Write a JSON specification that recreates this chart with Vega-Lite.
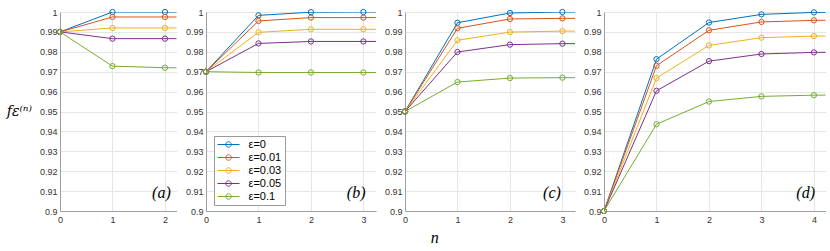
{
  "$schema": "https://vega.github.io/schema/vega-lite/v6.json",
  "padding": {"left": 6, "top": 7, "right": 4, "bottom": 2},
  "background": "white",
  "datasets": {
    "curves": [
      {"panel": "a", "eps": "ε=0", "n": 0, "f": 0.99},
      {"panel": "a", "eps": "ε=0", "n": 1, "f": 1.0},
      {"panel": "a", "eps": "ε=0", "n": 2, "f": 1.0},
      {"panel": "a", "eps": "ε=0", "n": 3, "f": 1.0},
      {"panel": "a", "eps": "ε=0.01", "n": 0, "f": 0.99},
      {"panel": "a", "eps": "ε=0.01", "n": 1, "f": 0.9975},
      {"panel": "a", "eps": "ε=0.01", "n": 2, "f": 0.9975},
      {"panel": "a", "eps": "ε=0.01", "n": 3, "f": 0.9975},
      {"panel": "a", "eps": "ε=0.03", "n": 0, "f": 0.99},
      {"panel": "a", "eps": "ε=0.03", "n": 1, "f": 0.992},
      {"panel": "a", "eps": "ε=0.03", "n": 2, "f": 0.992},
      {"panel": "a", "eps": "ε=0.03", "n": 3, "f": 0.992},
      {"panel": "a", "eps": "ε=0.05", "n": 0, "f": 0.99},
      {"panel": "a", "eps": "ε=0.05", "n": 1, "f": 0.9866},
      {"panel": "a", "eps": "ε=0.05", "n": 2, "f": 0.9866},
      {"panel": "a", "eps": "ε=0.05", "n": 3, "f": 0.9866},
      {"panel": "a", "eps": "ε=0.1", "n": 0, "f": 0.99},
      {"panel": "a", "eps": "ε=0.1", "n": 1, "f": 0.9728},
      {"panel": "a", "eps": "ε=0.1", "n": 2, "f": 0.972},
      {"panel": "a", "eps": "ε=0.1", "n": 3, "f": 0.9718},

      {"panel": "b", "eps": "ε=0", "n": 0, "f": 0.97},
      {"panel": "b", "eps": "ε=0", "n": 1, "f": 0.9983},
      {"panel": "b", "eps": "ε=0", "n": 2, "f": 0.9999},
      {"panel": "b", "eps": "ε=0", "n": 3, "f": 1.0},
      {"panel": "b", "eps": "ε=0", "n": 4, "f": 1.0},
      {"panel": "b", "eps": "ε=0.01", "n": 0, "f": 0.97},
      {"panel": "b", "eps": "ε=0.01", "n": 1, "f": 0.9955},
      {"panel": "b", "eps": "ε=0.01", "n": 2, "f": 0.9972},
      {"panel": "b", "eps": "ε=0.01", "n": 3, "f": 0.9972},
      {"panel": "b", "eps": "ε=0.01", "n": 4, "f": 0.9972},
      {"panel": "b", "eps": "ε=0.03", "n": 0, "f": 0.97},
      {"panel": "b", "eps": "ε=0.03", "n": 1, "f": 0.9898},
      {"panel": "b", "eps": "ε=0.03", "n": 2, "f": 0.9913},
      {"panel": "b", "eps": "ε=0.03", "n": 3, "f": 0.9913},
      {"panel": "b", "eps": "ε=0.03", "n": 4, "f": 0.9913},
      {"panel": "b", "eps": "ε=0.05", "n": 0, "f": 0.97},
      {"panel": "b", "eps": "ε=0.05", "n": 1, "f": 0.9842},
      {"panel": "b", "eps": "ε=0.05", "n": 2, "f": 0.9852},
      {"panel": "b", "eps": "ε=0.05", "n": 3, "f": 0.9852},
      {"panel": "b", "eps": "ε=0.05", "n": 4, "f": 0.9852},
      {"panel": "b", "eps": "ε=0.1", "n": 0, "f": 0.97},
      {"panel": "b", "eps": "ε=0.1", "n": 1, "f": 0.9696},
      {"panel": "b", "eps": "ε=0.1", "n": 2, "f": 0.9696},
      {"panel": "b", "eps": "ε=0.1", "n": 3, "f": 0.9696},
      {"panel": "b", "eps": "ε=0.1", "n": 4, "f": 0.9696},

      {"panel": "c", "eps": "ε=0", "n": 0, "f": 0.95},
      {"panel": "c", "eps": "ε=0", "n": 1, "f": 0.9946},
      {"panel": "c", "eps": "ε=0", "n": 2, "f": 0.9995},
      {"panel": "c", "eps": "ε=0", "n": 3, "f": 1.0},
      {"panel": "c", "eps": "ε=0", "n": 4, "f": 1.0},
      {"panel": "c", "eps": "ε=0.01", "n": 0, "f": 0.95},
      {"panel": "c", "eps": "ε=0.01", "n": 1, "f": 0.9918},
      {"panel": "c", "eps": "ε=0.01", "n": 2, "f": 0.9965},
      {"panel": "c", "eps": "ε=0.01", "n": 3, "f": 0.9968},
      {"panel": "c", "eps": "ε=0.01", "n": 4, "f": 0.9968},
      {"panel": "c", "eps": "ε=0.03", "n": 0, "f": 0.95},
      {"panel": "c", "eps": "ε=0.03", "n": 1, "f": 0.9858},
      {"panel": "c", "eps": "ε=0.03", "n": 2, "f": 0.9899},
      {"panel": "c", "eps": "ε=0.03", "n": 3, "f": 0.9904},
      {"panel": "c", "eps": "ε=0.03", "n": 4, "f": 0.9904},
      {"panel": "c", "eps": "ε=0.05", "n": 0, "f": 0.95},
      {"panel": "c", "eps": "ε=0.05", "n": 1, "f": 0.9799},
      {"panel": "c", "eps": "ε=0.05", "n": 2, "f": 0.9836},
      {"panel": "c", "eps": "ε=0.05", "n": 3, "f": 0.9841},
      {"panel": "c", "eps": "ε=0.05", "n": 4, "f": 0.9841},
      {"panel": "c", "eps": "ε=0.1", "n": 0, "f": 0.95},
      {"panel": "c", "eps": "ε=0.1", "n": 1, "f": 0.9648},
      {"panel": "c", "eps": "ε=0.1", "n": 2, "f": 0.9668},
      {"panel": "c", "eps": "ε=0.1", "n": 3, "f": 0.967},
      {"panel": "c", "eps": "ε=0.1", "n": 4, "f": 0.967},

      {"panel": "d", "eps": "ε=0", "n": 0, "f": 0.9},
      {"panel": "d", "eps": "ε=0", "n": 1, "f": 0.9763},
      {"panel": "d", "eps": "ε=0", "n": 2, "f": 0.9947},
      {"panel": "d", "eps": "ε=0", "n": 3, "f": 0.9988},
      {"panel": "d", "eps": "ε=0", "n": 4, "f": 0.9998},
      {"panel": "d", "eps": "ε=0", "n": 5, "f": 1.0},
      {"panel": "d", "eps": "ε=0.01", "n": 0, "f": 0.9},
      {"panel": "d", "eps": "ε=0.01", "n": 1, "f": 0.973},
      {"panel": "d", "eps": "ε=0.01", "n": 2, "f": 0.9908},
      {"panel": "d", "eps": "ε=0.01", "n": 3, "f": 0.995},
      {"panel": "d", "eps": "ε=0.01", "n": 4, "f": 0.9958},
      {"panel": "d", "eps": "ε=0.01", "n": 5, "f": 0.996},
      {"panel": "d", "eps": "ε=0.03", "n": 0, "f": 0.9},
      {"panel": "d", "eps": "ε=0.03", "n": 1, "f": 0.9668},
      {"panel": "d", "eps": "ε=0.03", "n": 2, "f": 0.9832},
      {"panel": "d", "eps": "ε=0.03", "n": 3, "f": 0.9871},
      {"panel": "d", "eps": "ε=0.03", "n": 4, "f": 0.9879},
      {"panel": "d", "eps": "ε=0.03", "n": 5, "f": 0.988},
      {"panel": "d", "eps": "ε=0.05", "n": 0, "f": 0.9},
      {"panel": "d", "eps": "ε=0.05", "n": 1, "f": 0.9604},
      {"panel": "d", "eps": "ε=0.05", "n": 2, "f": 0.9753},
      {"panel": "d", "eps": "ε=0.05", "n": 3, "f": 0.9789},
      {"panel": "d", "eps": "ε=0.05", "n": 4, "f": 0.9797},
      {"panel": "d", "eps": "ε=0.05", "n": 5, "f": 0.9799},
      {"panel": "d", "eps": "ε=0.1", "n": 0, "f": 0.9},
      {"panel": "d", "eps": "ε=0.1", "n": 1, "f": 0.9436},
      {"panel": "d", "eps": "ε=0.1", "n": 2, "f": 0.955},
      {"panel": "d", "eps": "ε=0.1", "n": 3, "f": 0.9576},
      {"panel": "d", "eps": "ε=0.1", "n": 4, "f": 0.9582},
      {"panel": "d", "eps": "ε=0.1", "n": 5, "f": 0.9584}
    ]
  },
  "title": {
    "text": "n",
    "orient": "bottom",
    "anchor": "middle",
    "font": "Liberation Serif",
    "fontStyle": "italic",
    "fontWeight": "normal",
    "fontSize": 16,
    "color": "#000",
    "offset": 6,
    "dx": 19
  },
  "config": {
    "view": {"stroke": null},
    "font": "Liberation Sans",
    "axis": {
      "labelFont": "Liberation Sans",
      "labelFontSize": 9,
      "labelColor": "#333",
      "labelFlush": false,
      "labelOverlap": false,
      "labelPadding": 3,
      "domainColor": "#a0a0a0",
      "domainWidth": 1,
      "gridColor": "#e6e6e6",
      "gridWidth": 1,
      "ticks": false
    },
    "axisX": {"labelPadding": 4, "title": null, "format": "d"},
    "axisY": {"format": ".2~f", "title": null}
  },
  "spacing": 8,
  "resolve": {"legend": {"color": "independent"}},
  "hconcat": [
    {
      "width": 116.5,
      "height": 199,
      "layer": [
        {
          "data": {"name": "curves"},
          "transform": [{"filter": "datum.panel == 'a'"}],
          "mark": {"type": "line", "clip": true, "strokeWidth": 1},
          "encoding": {
            "x": {"field": "n", "type": "quantitative", "scale": {"domain": [0, 2.22], "nice": false}, "axis": {"values": [0, 1, 2]}},
            "y": {"field": "f", "type": "quantitative", "scale": {"domain": [0.9, 1], "nice": false, "zero": false}, "axis": {"values": [0.9, 0.91, 0.92, 0.93, 0.94, 0.95, 0.96, 0.97, 0.98, 0.99, 1], "title": "fε⁽ⁿ⁾", "titleAngle": 0, "titleFont": "DejaVu Serif", "titleFontStyle": "italic", "titleFontWeight": "normal", "titleFontSize": 14, "titleColor": "#000", "titleAlign": "right", "titleBaseline": "middle", "titlePadding": 8}},
            "color": {"field": "eps", "type": "nominal", "scale": {"domain": ["ε=0", "ε=0.01", "ε=0.03", "ε=0.05", "ε=0.1"], "range": ["#0072BD", "#D95319", "#EDB120", "#7E2F8E", "#77AC30"]}, "legend": null}
          }
        },
        {
          "data": {"name": "curves"},
          "transform": [{"filter": "datum.panel == 'a' && datum.n <= 2"}],
          "mark": {"type": "point", "shape": "circle", "filled": false, "size": 28, "strokeWidth": 1, "opacity": 1},
          "encoding": {
            "x": {"field": "n", "type": "quantitative", "axis": {"values": [0, 1, 2]}},
            "y": {"field": "f", "type": "quantitative", "axis": {"values": [0.9, 0.91, 0.92, 0.93, 0.94, 0.95, 0.96, 0.97, 0.98, 0.99, 1], "title": "fε⁽ⁿ⁾", "titleAngle": 0, "titleFont": "DejaVu Serif", "titleFontStyle": "italic", "titleFontWeight": "normal", "titleFontSize": 14, "titleColor": "#000", "titleAlign": "right", "titleBaseline": "middle", "titlePadding": 8}},
            "color": {"field": "eps", "type": "nominal", "legend": null}
          }
        },
        {
          "data": {"values": [{"label": "(a)"}]},
          "mark": {"type": "text", "align": "right", "baseline": "middle", "font": "Liberation Serif", "fontStyle": "italic", "fontSize": 16, "color": "#000"},
          "encoding": {
            "x": {"datum": 2.11, "type": "quantitative", "axis": {"values": [0, 1, 2]}},
            "y": {"datum": 0.9092, "type": "quantitative", "axis": {"values": [0.9, 0.91, 0.92, 0.93, 0.94, 0.95, 0.96, 0.97, 0.98, 0.99, 1], "title": "fε⁽ⁿ⁾", "titleAngle": 0, "titleFont": "DejaVu Serif", "titleFontStyle": "italic", "titleFontWeight": "normal", "titleFontSize": 14, "titleColor": "#000", "titleAlign": "right", "titleBaseline": "middle", "titlePadding": 8}},
            "text": {"field": "label"}
          }
        }
      ]
    },
    {
      "width": 170,
      "height": 199,
      "layer": [
        {
          "data": {"name": "curves"},
          "transform": [{"filter": "datum.panel == 'b'"}],
          "mark": {"type": "line", "clip": true, "strokeWidth": 1},
          "encoding": {
            "x": {"field": "n", "type": "quantitative", "scale": {"domain": [0, 3.24], "nice": false}, "axis": {"values": [0, 1, 2, 3]}},
            "y": {"field": "f", "type": "quantitative", "scale": {"domain": [0.9, 1], "nice": false, "zero": false}, "axis": {"values": [0.9, 0.91, 0.92, 0.93, 0.94, 0.95, 0.96, 0.97, 0.98, 0.99, 1]}},
            "color": {"field": "eps", "type": "nominal", "scale": {"domain": ["ε=0", "ε=0.01", "ε=0.03", "ε=0.05", "ε=0.1"], "range": ["#0072BD", "#D95319", "#EDB120", "#7E2F8E", "#77AC30"]},
              "legend": {"title": null, "orient": "none", "legendX": 8, "legendY": 124, "symbolType": "M-2.2,0H2.2M0.55,0A0.55,0.55,0,1,1,-0.55,0A0.55,0.55,0,1,1,0.55,0", "symbolSize": 100, "symbolStrokeWidth": 1, "symbolFillColor": "transparent", "symbolOffset": 6, "labelOffset": 14.5, "labelFont": "Liberation Sans", "labelFontSize": 11, "labelColor": "#000", "padding": 3, "strokeColor": "#9a9a9a", "fillColor": "white", "rowPadding": 1}}
          }
        },
        {
          "data": {"name": "curves"},
          "transform": [{"filter": "datum.panel == 'b' && datum.n <= 3"}],
          "mark": {"type": "point", "shape": "circle", "filled": false, "size": 28, "strokeWidth": 1, "opacity": 1},
          "encoding": {
            "x": {"field": "n", "type": "quantitative", "axis": {"values": [0, 1, 2, 3]}},
            "y": {"field": "f", "type": "quantitative", "axis": {"values": [0.9, 0.91, 0.92, 0.93, 0.94, 0.95, 0.96, 0.97, 0.98, 0.99, 1]}},
            "color": {"field": "eps", "type": "nominal",
              "legend": {"title": null, "orient": "none", "legendX": 8, "legendY": 124, "symbolType": "M-2.2,0H2.2M0.55,0A0.55,0.55,0,1,1,-0.55,0A0.55,0.55,0,1,1,0.55,0", "symbolSize": 100, "symbolStrokeWidth": 1, "symbolFillColor": "transparent", "symbolOffset": 6, "labelOffset": 14.5, "labelFont": "Liberation Sans", "labelFontSize": 11, "labelColor": "#000", "padding": 3, "strokeColor": "#9a9a9a", "fillColor": "white", "rowPadding": 1}}
          }
        },
        {
          "data": {"values": [{"label": "(b)"}]},
          "mark": {"type": "text", "align": "right", "baseline": "middle", "font": "Liberation Serif", "fontStyle": "italic", "fontSize": 16, "color": "#000"},
          "encoding": {
            "x": {"datum": 3.04, "type": "quantitative", "axis": {"values": [0, 1, 2, 3]}},
            "y": {"datum": 0.9092, "type": "quantitative", "axis": {"values": [0.9, 0.91, 0.92, 0.93, 0.94, 0.95, 0.96, 0.97, 0.98, 0.99, 1]}},
            "text": {"field": "label"}
          }
        }
      ]
    },
    {
      "width": 170,
      "height": 199,
      "layer": [
        {
          "data": {"name": "curves"},
          "transform": [{"filter": "datum.panel == 'c'"}],
          "mark": {"type": "line", "clip": true, "strokeWidth": 1},
          "encoding": {
            "x": {"field": "n", "type": "quantitative", "scale": {"domain": [0, 3.24], "nice": false}, "axis": {"values": [0, 1, 2, 3]}},
            "y": {"field": "f", "type": "quantitative", "scale": {"domain": [0.9, 1], "nice": false, "zero": false}, "axis": {"values": [0.9, 0.91, 0.92, 0.93, 0.94, 0.95, 0.96, 0.97, 0.98, 0.99, 1]}},
            "color": {"field": "eps", "type": "nominal", "scale": {"domain": ["ε=0", "ε=0.01", "ε=0.03", "ε=0.05", "ε=0.1"], "range": ["#0072BD", "#D95319", "#EDB120", "#7E2F8E", "#77AC30"]}, "legend": null}
          }
        },
        {
          "data": {"name": "curves"},
          "transform": [{"filter": "datum.panel == 'c' && datum.n <= 3"}],
          "mark": {"type": "point", "shape": "circle", "filled": false, "size": 28, "strokeWidth": 1, "opacity": 1},
          "encoding": {
            "x": {"field": "n", "type": "quantitative", "axis": {"values": [0, 1, 2, 3]}},
            "y": {"field": "f", "type": "quantitative", "axis": {"values": [0.9, 0.91, 0.92, 0.93, 0.94, 0.95, 0.96, 0.97, 0.98, 0.99, 1]}},
            "color": {"field": "eps", "type": "nominal", "legend": null}
          }
        },
        {
          "data": {"values": [{"label": "(c)"}]},
          "mark": {"type": "text", "align": "right", "baseline": "middle", "font": "Liberation Serif", "fontStyle": "italic", "fontSize": 16, "color": "#000"},
          "encoding": {
            "x": {"datum": 2.97, "type": "quantitative", "axis": {"values": [0, 1, 2, 3]}},
            "y": {"datum": 0.9092, "type": "quantitative", "axis": {"values": [0.9, 0.91, 0.92, 0.93, 0.94, 0.95, 0.96, 0.97, 0.98, 0.99, 1]}},
            "text": {"field": "label"}
          }
        }
      ]
    },
    {
      "width": 221.5,
      "height": 199,
      "layer": [
        {
          "data": {"name": "curves"},
          "transform": [{"filter": "datum.panel == 'd'"}],
          "mark": {"type": "line", "clip": true, "strokeWidth": 1},
          "encoding": {
            "x": {"field": "n", "type": "quantitative", "scale": {"domain": [0, 4.22], "nice": false}, "axis": {"values": [0, 1, 2, 3, 4]}},
            "y": {"field": "f", "type": "quantitative", "scale": {"domain": [0.9, 1], "nice": false, "zero": false}, "axis": {"values": [0.9, 0.91, 0.92, 0.93, 0.94, 0.95, 0.96, 0.97, 0.98, 0.99, 1]}},
            "color": {"field": "eps", "type": "nominal", "scale": {"domain": ["ε=0", "ε=0.01", "ε=0.03", "ε=0.05", "ε=0.1"], "range": ["#0072BD", "#D95319", "#EDB120", "#7E2F8E", "#77AC30"]}, "legend": null}
          }
        },
        {
          "data": {"name": "curves"},
          "transform": [{"filter": "datum.panel == 'd' && datum.n <= 4"}],
          "mark": {"type": "point", "shape": "circle", "filled": false, "size": 28, "strokeWidth": 1, "opacity": 1},
          "encoding": {
            "x": {"field": "n", "type": "quantitative", "axis": {"values": [0, 1, 2, 3, 4]}},
            "y": {"field": "f", "type": "quantitative", "axis": {"values": [0.9, 0.91, 0.92, 0.93, 0.94, 0.95, 0.96, 0.97, 0.98, 0.99, 1]}},
            "color": {"field": "eps", "type": "nominal", "legend": null}
          }
        },
        {
          "data": {"values": [{"label": "(d)"}]},
          "mark": {"type": "text", "align": "right", "baseline": "middle", "font": "Liberation Serif", "fontStyle": "italic", "fontSize": 16, "color": "#000"},
          "encoding": {
            "x": {"datum": 4.02, "type": "quantitative", "axis": {"values": [0, 1, 2, 3, 4]}},
            "y": {"datum": 0.9092, "type": "quantitative", "axis": {"values": [0.9, 0.91, 0.92, 0.93, 0.94, 0.95, 0.96, 0.97, 0.98, 0.99, 1]}},
            "text": {"field": "label"}
          }
        }
      ]
    }
  ]
}
